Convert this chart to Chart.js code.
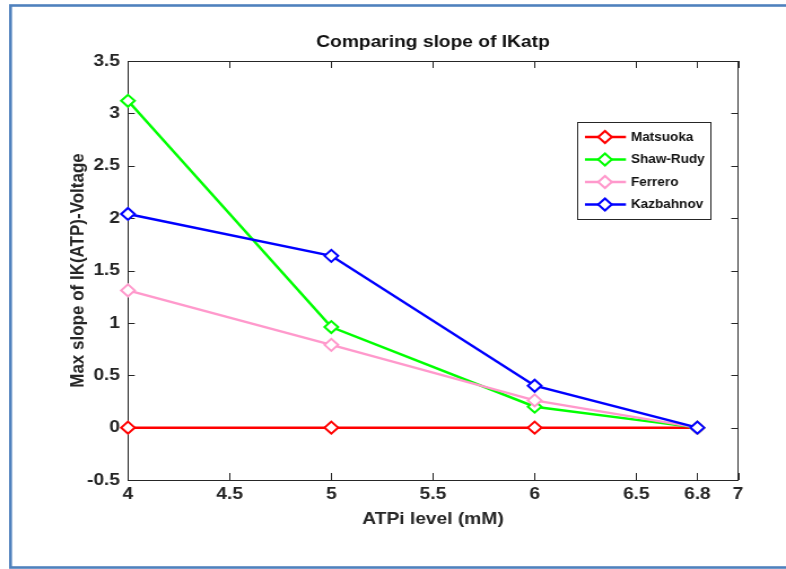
<!DOCTYPE html>
<html>
<head>
<meta charset="utf-8">
<script src="https://cdn.jsdelivr.net/npm/chart.js@4/dist/chart.umd.min.js"></script>
<style>
  html, body { margin: 0; padding: 0; background: #fff; overflow: hidden; }
  /* the figure is drawn narrower and widened horizontally, like the exported figure */
  #plot { display: block; width: 696px; height: 569px; transform: scaleX(1.12931); transform-origin: 0 0; }
</style>
</head>
<body>
<canvas id="plot" width="696" height="569"></canvas>
<script>
// ATPi concentrations (mM) and the max slope of IK(ATP)-voltage per model
const atpLevels = [4, 5, 6, 6.8];
const matsuoka  = [0, 0, 0, 0];
const shawRudy  = [3.12, 0.96, 0.2, 0];
const ferrero   = [1.31, 0.79, 0.26, 0];
const kazbahnov = [2.04, 1.64, 0.4, 0];

const xTicks = [4, 4.5, 5, 5.5, 6, 6.5, 6.8, 7];
const yTicks = [-0.5, 0, 0.5, 1, 1.5, 2, 2.5, 3, 3.5];

const seriesNames  = ['Matsuoka', 'Shaw-Rudy', 'Ferrero', 'Kazbahnov'];
const seriesValues = [matsuoka, shawRudy, ferrero, kazbahnov];
const seriesColors = ['#FF0000', '#00FF00', '#FF99CC', '#0000FF'];

const FONT = '"Liberation Sans", Arial, Helvetica, sans-serif';
const AXIS_COLOR = '#262626';

const datasets = seriesNames.map((name, i) => ({
  label: name,
  data: atpLevels.map((x, j) => ({ x: x, y: seriesValues[i][j] })),
  borderColor: seriesColors[i],
  backgroundColor: '#ffffff',
  borderWidth: 2.5,
  pointStyle: 'rectRot',
  pointRadius: 6,
  pointBorderWidth: 2,
  pointBorderColor: seriesColors[i],
  pointBackgroundColor: '#ffffff',
  tension: 0,
  clip: false,
  order: seriesNames.length - 1 - i   // later series are drawn on top
}));

function diamond(ctx, x, y, r) {
  ctx.beginPath();
  ctx.moveTo(x - r, y);
  ctx.lineTo(x, y - r);
  ctx.lineTo(x + r, y);
  ctx.lineTo(x, y + r);
  ctx.closePath();
}

// outer blue frame around the figure
const figureFrame = {
  id: 'figureFrame',
  beforeDraw(chart) {
    const ctx = chart.ctx;
    ctx.save();
    ctx.fillStyle = '#ffffff';
    ctx.fillRect(0, 0, chart.width, chart.height);
    ctx.strokeStyle = '#4F81BD';
    ctx.lineWidth = 2.6;
    ctx.strokeRect(9.3, 5.5, chart.width + 20, 562);
    ctx.restore();
  }
};

// box around the plot area with inward tick marks on all four sides
const axesBox = {
  id: 'axesBox',
  beforeDatasetsDraw(chart) {
    const { ctx, chartArea: a, scales } = chart;
    ctx.save();
    ctx.strokeStyle = AXIS_COLOR;
    ctx.lineWidth = 1;
    ctx.strokeRect(Math.round(a.left) + 0.5, Math.round(a.top) + 0.5,
                   Math.round(a.right - a.left), Math.round(a.bottom - a.top));
    ctx.beginPath();
    scales.x.ticks.forEach(t => {
      const px = Math.round(scales.x.getPixelForValue(t.value)) + 0.5;
      ctx.moveTo(px, a.bottom); ctx.lineTo(px, a.bottom - 7);
      ctx.moveTo(px, a.top); ctx.lineTo(px, a.top + 7);
    });
    scales.y.ticks.forEach(t => {
      const py = Math.round(scales.y.getPixelForValue(t.value)) + 0.5;
      ctx.moveTo(a.left, py); ctx.lineTo(a.left + 6, py);
      ctx.moveTo(a.right, py); ctx.lineTo(a.right - 6, py);
    });
    ctx.stroke();
    ctx.restore();
  }
};

// boxed legend in the upper right of the plot area
const boxLegend = {
  id: 'boxLegend',
  afterDatasetsDraw(chart) {
    const ctx = chart.ctx;
    const left = 510.9, right = 628.7, top = 122, bottom = 219;
    ctx.save();
    ctx.fillStyle = '#ffffff';
    ctx.fillRect(left, top, right - left, bottom - top);
    ctx.strokeStyle = AXIS_COLOR;
    ctx.lineWidth = 1;
    ctx.strokeRect(Math.round(left) + 0.5, Math.round(top) + 0.5, Math.round(right - left), Math.round(bottom - top));
    const rows = [137, 159.5, 182, 204.5];
    chart.data.datasets.forEach((ds, i) => {
      const y = rows[i];
      ctx.strokeStyle = ds.borderColor;
      ctx.lineWidth = 2.5;
      ctx.beginPath();
      ctx.moveTo(518, y); ctx.lineTo(554.3, y);
      ctx.stroke();
      ctx.lineWidth = 2;
      ctx.fillStyle = '#ffffff';
      diamond(ctx, 535.7, y, 6);
      ctx.fill();
      ctx.stroke();
      ctx.fillStyle = '#111111';
      ctx.font = 'bold 12px ' + FONT;
      ctx.textBaseline = 'middle';
      ctx.textAlign = 'left';
      ctx.fillText(ds.label, 558.7, y + 0.5);
    });
    ctx.restore();
  }
};

new Chart(document.getElementById('plot'), {
  type: 'line',
  data: { datasets: datasets },
  plugins: [figureFrame, axesBox, boxLegend],
  options: {
    responsive: false,
    animation: false,
    devicePixelRatio: 1,
    events: [],
    layout: { padding: { left: 58.8, right: 42.5, top: 0, bottom: 39.8 } },
    plugins: {
      legend: { display: false },
      tooltip: { enabled: false },
      title: {
        display: true,
        text: 'Comparing slope of IKatp',
        fullSize: false,
        color: '#111111',
        font: { family: FONT, size: 17, weight: 'bold' },
        padding: { top: 31.8, bottom: 8.8 }
      }
    },
    scales: {
      x: {
        type: 'linear',
        min: 4, max: 7,
        afterBuildTicks: s => { s.ticks = xTicks.map(v => ({ value: v })); },
        afterFit: s => { s.height = 49.2; },
        grid: { display: false, drawTicks: false },
        border: { display: false },
        ticks: {
          autoSkip: false, maxRotation: 0,
          padding: 4,
          color: AXIS_COLOR,
          font: { family: FONT, size: 17, weight: 'bold' },
          callback: v => String(v)
        },
        title: {
          display: true,
          text: 'ATPi level (mM)',
          color: AXIS_COLOR,
          font: { family: FONT, size: 17, weight: 'bold' },
          padding: 0
        }
      },
      y: {
        type: 'linear',
        min: -0.5, max: 3.5,
        afterBuildTicks: s => { s.ticks = yTicks.map(v => ({ value: v })); },
        afterFit: s => { s.width = 54.5; },
        grid: { display: false, drawTicks: false },
        border: { display: false },
        ticks: {
          autoSkip: false,
          padding: 7,
          color: AXIS_COLOR,
          font: { family: FONT, size: 17, weight: 'bold' },
          callback: v => String(v)
        },
        title: {
          display: true,
          text: 'Max slope of IK(ATP)-Voltage',
          color: AXIS_COLOR,
          font: { family: FONT, size: 17, weight: 'bold' },
          padding: 0
        }
      }
    }
  }
});
</script>
</body>
</html>
